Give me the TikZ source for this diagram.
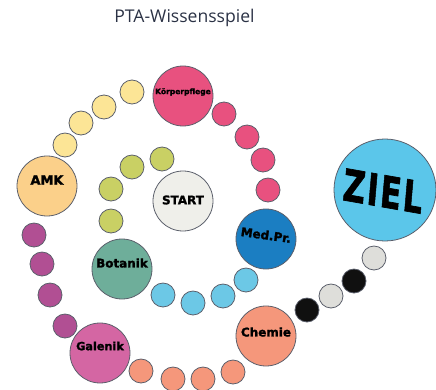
\documentclass[tikz,border=0pt]{standalone}
\usepackage{fontspec}
\setmainfont{DejaVu Sans}[BoldFeatures={FakeBold=1.6}]
\newfontfamily\titlefont{Open Sans}
\newfontfamily\zielfont{DejaVu Sans}[BoldFeatures={FakeBold=1.6, LetterSpace=6}]
\definecolor{rim}{HTML}{5A5E6A}
\definecolor{titleblue}{HTML}{2B3245}
\definecolor{pinkfield}{HTML}{E8517F}
\definecolor{yellowfield}{HTML}{FCE596}
\definecolor{amkorange}{HTML}{FBD08A}
\definecolor{olivefield}{HTML}{C9D064}
\definecolor{startgray}{HTML}{EFEFEA}
\definecolor{medblue}{HTML}{1B7EC2}
\definecolor{skyfield}{HTML}{6CC8E6}
\definecolor{zielblue}{HTML}{5BC6EA}
\definecolor{botanikgreen}{HTML}{6EAE9A}
\definecolor{purplefield}{HTML}{B14F93}
\definecolor{galenikpink}{HTML}{D466A3}
\definecolor{salmonfield}{HTML}{F5977B}
\definecolor{blackfield}{HTML}{101010}
\definecolor{grayfield}{HTML}{DEDEDA}

\begin{document}
\begin{tikzpicture}[scale=0.2]
  \tikzstyle{every node}+=[inner sep=0pt]
  \tikzstyle{field}=[draw=rim, line width=0.45pt]
  \tikzstyle{fieldtext}=[font=\bfseries\fontsize{6.8}{7}\selectfont]
  \useasboundingbox (0,0) rectangle (43.6,-39);
  \draw (18.45,-1.8) node (title) {\titlefont\fontsize{10}{12}\selectfont\color{titleblue}PTA-Wissensspiel};
  % Körperpflege
  \draw [field, fill=pinkfield] (18.3,-9.6) circle (3);
  \draw (18.3,-9.2) node [fieldtext, font=\bfseries\fontsize{4.3}{5}\selectfont] (koerper) {Körperpflege};
  \draw [field, fill=pinkfield] (22.4,-11.4) circle (1.2);
  \draw [field, fill=pinkfield] (24.7,-13.7) circle (1.2);
  \draw [field, fill=pinkfield] (26.3,-16.0) circle (1.2);
  \draw [field, fill=pinkfield] (26.8,-19.0) circle (1.2);
  % Med.Pr.
  \draw [field, fill=medblue] (26.6,-23.9) circle (3);
  \draw (26.6,-23.5) node [fieldtext, rotate=-8] (medpr) {Med.Pr.};
  \draw [field, fill=skyfield] (24.6,-28.0) circle (1.2);
  \draw [field, fill=skyfield] (22.3,-29.6) circle (1.2);
  \draw [field, fill=skyfield] (19.3,-30.3) circle (1.2);
  \draw [field, fill=skyfield] (16.3,-29.5) circle (1.2);
  % Botanik
  \draw [field, fill=botanikgreen] (12.2,-26.9) circle (3);
  \draw (12.2,-26.3) node [fieldtext] (botanik) {Botanik};
  \draw [field, fill=olivefield] (11.1,-22.1) circle (1.2);
  \draw [field, fill=olivefield] (11.1,-18.9) circle (1.2);
  \draw [field, fill=olivefield] (13.2,-16.7) circle (1.2);
  \draw [field, fill=olivefield] (16.2,-15.9) circle (1.2);
  % START
  \draw [field, fill=startgray] (18.3,-20.1) circle (3);
  \draw (18.3,-20.0) node [fieldtext] (start) {START};
  % AMK
  \draw [field, fill=amkorange] (4.7,-18.6) circle (3);
  \draw (4.7,-18.0) node [fieldtext, font=\bfseries\fontsize{7.4}{8}\selectfont] (amk) {AMK};
  \draw [field, fill=yellowfield] (6.5,-14.5) circle (1.2);
  \draw [field, fill=yellowfield] (8.1,-12.3) circle (1.2);
  \draw [field, fill=yellowfield] (10.4,-10.7) circle (1.2);
  \draw [field, fill=yellowfield] (13.2,-9.2) circle (1.2);
  \draw [field, fill=purplefield] (3.4,-23.5) circle (1.2);
  \draw [field, fill=purplefield] (4.2,-26.4) circle (1.2);
  \draw [field, fill=purplefield] (5.0,-29.5) circle (1.2);
  \draw [field, fill=purplefield] (6.5,-32.6) circle (1.2);
  % Galenik
  \draw [field, fill=galenikpink] (10.0,-35.3) circle (3);
  \draw (10.0,-34.6) node [fieldtext, font=\bfseries\fontsize{6.4}{7}\selectfont] (galenik) {Galenik};
  \draw [field, fill=salmonfield] (14.1,-37.1) circle (1.2);
  \draw [field, fill=salmonfield] (17.3,-37.9) circle (1.2);
  \draw [field, fill=salmonfield] (20.3,-37.9) circle (1.2);
  \draw [field, fill=salmonfield] (23.3,-37.2) circle (1.2);
  % Chemie
  \draw [field, fill=salmonfield] (26.6,-33.6) circle (3);
  \draw (26.6,-33.2) node [fieldtext] (chemie) {Chemie};
  \draw [field, fill=blackfield] (30.7,-31.0) circle (1.2);
  \draw [field, fill=grayfield] (33.1,-29.6) circle (1.2);
  \draw [field, fill=blackfield] (35.4,-28.1) circle (1.2);
  \draw [field, fill=grayfield] (37.4,-25.8) circle (1.2);
  % ZIEL
  \draw [field, fill=zielblue] (38.5,-19.0) circle (5.1);
  \draw (38.3,-19.1) node [font=\zielfont\bfseries\fontsize{25}{27}\selectfont, xscale=0.7, rotate=-7] (ziel) {ZIEL};
\end{tikzpicture}
\end{document}
